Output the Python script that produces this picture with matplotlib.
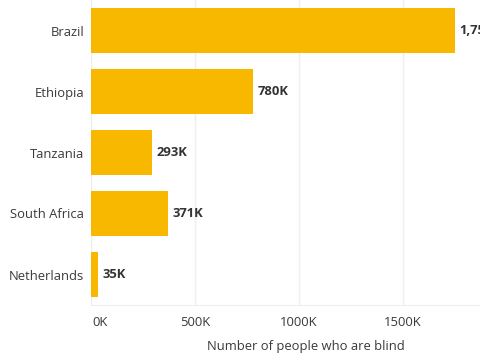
import matplotlib.pyplot as plt
import matplotlib.transforms as mtransforms

countries = ['Brazil', 'Ethiopia', 'Tanzania', 'South Africa', 'Netherlands']
blind = [1750, 780, 293, 371, 35]  # thousands
labels = ['1,750K', '780K', '293K', '371K', '35K']
xticks = [0, 500, 1000, 1500]
xtick_labels = ['0K', '500K', '1000K', '1500K']

plt.rcParams['font.family'] = ['Open Sans', 'DejaVu Sans']

fig = plt.figure(figsize=(4.8, 3.6), dpi=100)
ax = fig.add_axes([91 / 480, 55 / 360, 430 / 480, 305 / 360])

ypos = list(range(len(countries)))
ax.barh(ypos, blind, height=0.74, color='#F9B800', zorder=2)

for y, v, lab in zip(ypos, blind, labels):
    ax.text(v + 20, y, lab, va='center', ha='left', fontsize=9.4,
            fontweight='bold', color='#333333', clip_on=False)

ax.set_xlim(0, 2067)
ax.set_ylim(4.5, -0.5)
ax.set_yticks(ypos)
ax.set_yticklabels(countries)
ax.set_xticks(xticks)
ax.set_xticklabels(xtick_labels)
ax.tick_params(axis='both', length=0, labelsize=9.4, labelcolor='#3a3a3a')
ax.tick_params(axis='x', pad=8)
ax.tick_params(axis='y', pad=5)

# first tick label sits a bit to the right of zero
first = ax.get_xticklabels()[0]
first.set_transform(first.get_transform() +
                    mtransforms.ScaledTranslation(9 / 100, 0, fig.dpi_scale_trans))

ax.grid(axis='x', color='#EEEEEE', linewidth=1, zorder=0)
ax.grid(axis='y', visible=False)
for s in ['top', 'right', 'left']:
    ax.spines[s].set_visible(False)
ax.spines['bottom'].set_color('#EEEEEE')

ax.set_xlabel('Number of people who are blind', fontsize=9.4, color='#3a3a3a',
              labelpad=8)

fig.savefig('out.png', dpi=100)
